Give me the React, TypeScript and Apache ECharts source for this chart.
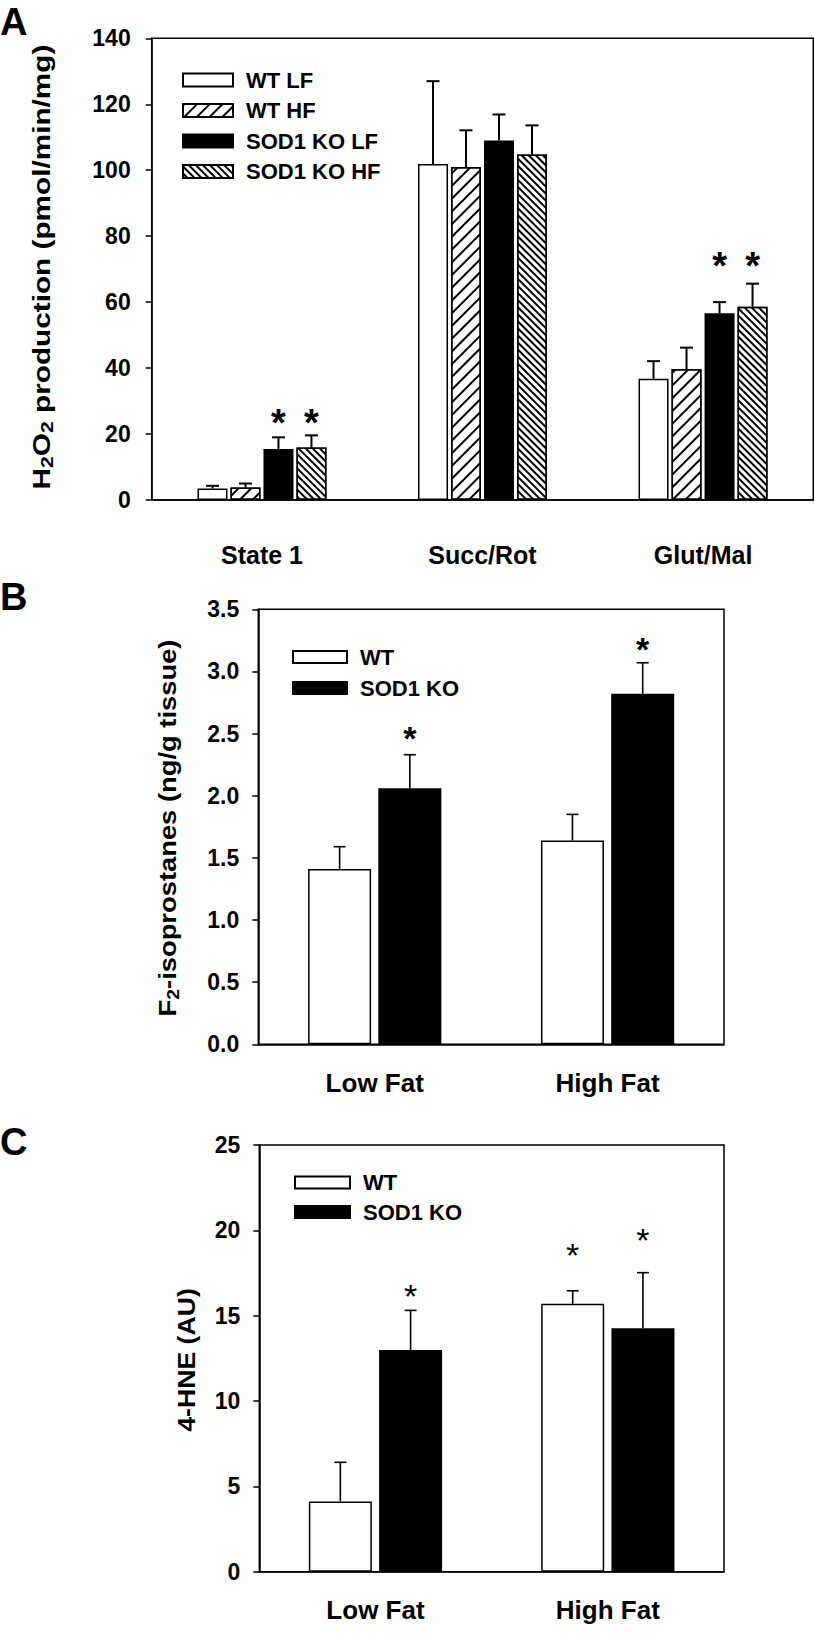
import { useEffect, useRef } from 'react';
import * as echarts from 'echarts';

const FONT = 'Arial, "Liberation Sans", Helvetica, sans-serif';

// ---------- Panel A : H2O2 production ----------
const catsA = ['State 1', 'Succ/Rot', 'Glut/Mal'];
const namesA = ['WT LF', 'WT HF', 'SOD1 KO LF', 'SOD1 KO HF'];
const meanWtLF = [3.5, 101.9, 36.8];
const errWtLF = [0.8, 25.1, 5.3];
const meanWtHF = [3.8, 101.0, 39.7];
const errWtHF = [1.2, 11.1, 6.5];
const meanKoLF = [15.5, 109.0, 56.6];
const errKoLF = [3.5, 7.9, 3.4];
const meanKoHF = [15.9, 104.8, 58.6];
const errKoHF = [3.7, 8.8, 7.0];
// [category, bar index, height of asterisk]
const starsA = [[0, 2, 26.1], [0, 3, 26.1], [2, 2, 73.7], [2, 3, 73.7]];

// ---------- Panel B : F2-isoprostanes ----------
const catsBC = ['Low Fat', 'High Fat'];
const namesBC = ['WT', 'SOD1 KO'];
const meanF2WT = [1.41, 1.64];
const errF2WT = [0.18, 0.21];
const meanF2KO = [2.06, 2.82];
const errF2KO = [0.27, 0.25];
const starsB = [[0, 1, 2.53], [1, 1, 3.24]];

// ---------- Panel C : 4-HNE ----------
const meanHneWT = [4.12, 15.7];
const errHneWT = [2.29, 0.76];
const meanHneKO = [12.99, 14.26];
const errHneKO = [2.32, 3.26];
const starsC = [[0, 1, 16.6], [1, 0, 19.04], [1, 1, 19.92]];

const BLACK = '#000';
const lineStyle = { color: BLACK, width: 1.5 };

const whiteStyle = { color: '#fff', borderColor: BLACK, borderWidth: 1.5 };
const blackStyle = { color: BLACK, borderColor: BLACK, borderWidth: 1.5 };
const fwdHatch = {
  color: '#fff', borderColor: BLACK, borderWidth: 1.5,
  decal: { symbol: 'rect', symbolSize: 1, color: BLACK, backgroundColor: '#fff', dashArrayX: [1, 0], dashArrayY: [2, 7], rotation: -Math.PI / 4 },
};
const backHatch = {
  color: '#fff', borderColor: BLACK, borderWidth: 1.5,
  decal: { symbol: 'rect', symbolSize: 1, color: BLACK, backgroundColor: '#fff', dashArrayX: [1, 0], dashArrayY: [2, 3], rotation: Math.PI / 4 },
};

function barSeries(name: string, data: number[], style: any, idx: number, bw: number, gap: string) {
  return {
    type: 'bar', name, xAxisIndex: idx, yAxisIndex: idx, data, barWidth: bw, barGap: gap,
    itemStyle: style, z: 2, silent: true,
  };
}

function errSeries(means: number[], errs: number[], idx: number, offset: number, cap: number, lw: number) {
  return {
    type: 'custom', xAxisIndex: idx, yAxisIndex: idx, z: 3, silent: true,
    data: means.map((m, i) => [i, m, errs[i]]),
    encode: { x: 0, y: 1 },
    renderItem: (_p: any, api: any) => {
      const c = api.value(0), m = api.value(1), e = api.value(2);
      const base = api.coord([c, m]);
      const top = api.coord([c, m + e]);
      const x = base[0] + offset;
      return {
        type: 'group',
        children: [
          { type: 'line', shape: { x1: x, y1: base[1], x2: x, y2: top[1] }, style: { stroke: BLACK, lineWidth: lw } },
          { type: 'line', shape: { x1: x - cap / 2, y1: top[1], x2: x + cap / 2, y2: top[1] }, style: { stroke: BLACK, lineWidth: lw } },
        ],
      };
    },
  };
}

function starSeries(stars: number[][], idx: number, step: number, nBars: number, fs: number, weight: string) {
  return {
    type: 'custom', xAxisIndex: idx, yAxisIndex: idx, z: 4, silent: true,
    data: stars,
    encode: { x: 0, y: 2 },
    renderItem: (_p: any, api: any) => {
      const c = api.value(0), b = api.value(1), v = api.value(2);
      const pt = api.coord([c, v]);
      const x = pt[0] + (b - (nBars - 1) / 2) * step;
      return {
        type: 'text', x, y: pt[1] + 0.23 * fs,
        style: { text: '*', fontSize: fs, fontWeight: weight, fontFamily: FONT, fill: BLACK, align: 'center', verticalAlign: 'middle' },
      };
    },
  };
}

function xAxis(idx: number, data: string[], fs: number, margin: number) {
  return {
    type: 'category', gridIndex: idx, data,
    axisLine: { lineStyle },
    axisTick: { alignWithLabel: true, length: 6, lineStyle },
    axisLabel: { fontSize: fs, fontWeight: 'bold', fontFamily: FONT, color: BLACK, margin },
  };
}

function yAxis(idx: number, max: number, interval: number, margin: number, digits: number) {
  return {
    type: 'value', gridIndex: idx, min: 0, max, interval,
    splitLine: { show: false },
    axisLine: { show: true, lineStyle },
    axisTick: { show: true, length: 6, lineStyle },
    axisLabel: {
      fontSize: 23, fontWeight: 'bold', fontFamily: FONT, color: BLACK, margin,
      formatter: (v: number) => v.toFixed(digits),
    },
  };
}

function legend(data: string[], left: number, top: number, w: number, h: number, gap: number) {
  return {
    data, orient: 'vertical', left, top, itemWidth: w, itemHeight: h, itemGap: gap,
    padding: 0, icon: 'rect', selectedMode: false,
    textStyle: { fontSize: 22, fontWeight: 'bold', fontFamily: FONT, color: BLACK, padding: [0, 0, 0, 8] },
  };
}

const mainRich = { fontSize: 24, fontWeight: 'bold', fontFamily: FONT, fill: BLACK, lineHeight: 24, verticalAlign: 'top' };
const subRich = { fontSize: 17, fontWeight: 'bold', fontFamily: FONT, fill: BLACK, lineHeight: 17, padding: [10, 0, 0, 0] };

function rotTitle(text: string, x: number, y: number, sx: number) {
  return {
    type: 'text', x, y, rotation: Math.PI / 2, scaleX: sx, silent: true,
    style: { text, rich: { m: mainRich, s: subRich }, align: 'center', verticalAlign: 'middle', fill: BLACK },
  };
}

function panelLetter(t: string, x: number, y: number) {
  return {
    type: 'text', x, y, silent: true,
    style: { text: t, fontSize: 38, fontWeight: 'bold', fontFamily: FONT, fill: BLACK, align: 'left', verticalAlign: 'middle' },
  };
}

export default function App() {
  const ref = useRef<HTMLDivElement>(null);
  useEffect(() => {
    if (!ref.current) return;
    const chart = echarts.init(ref.current, null, { renderer: 'svg' });
    const stepA = 33;
    const stepBC = 63 * 1.115;
    const offA = (i: number) => (i - 1.5) * stepA;
    const offBC = (i: number) => (i - 0.5) * stepBC;
    const gridStyle = { show: true, borderColor: BLACK, borderWidth: 1.5, backgroundColor: 'transparent' };
    chart.setOption({
      animation: false,
      backgroundColor: '#fff',
      grid: [
        { left: 151.7, top: 38.3, width: 661.6, height: 461.7, ...gridStyle },
        { left: 258.3, top: 609.3, width: 465.7, height: 435, ...gridStyle },
        { left: 259.3, top: 1145, width: 464.7, height: 426.7, ...gridStyle },
      ],
      xAxis: [xAxis(0, catsA, 25, 42), xAxis(1, catsBC, 26, 26), xAxis(2, catsBC, 26, 25)],
      yAxis: [yAxis(0, 140, 20, 21, 0), yAxis(1, 3.5, 0.5, 19, 1), yAxis(2, 25, 5, 19, 0)],
      legend: [
        legend(namesA, 182, 69, 50, 13, 8.5),
        legend(namesBC, 292, 646, 54, 12, 9),
        legend(namesBC, 294, 1171.5, 55, 12, 7.5),
      ],
      graphic: [
        panelLetter('A', 0, 22),
        panelLetter('B', 0, 597),
        panelLetter('C', 0, 1142),
        rotTitle('{m|H}{s|2}{m|O}{s|2}{m| production (pmol/min/mg)}', 42, 267, 1.24),
        rotTitle('{m|F}{s|2}{m|-isoprostanes (ng/g tissue)}', 168, 828, 1.14),
        rotTitle('{m|4-HNE (AU)}', 186, 1360, 1.11),
      ],
      series: [
        barSeries(namesA[0], meanWtLF, whiteStyle, 0, 30, '10%'),
        barSeries(namesA[1], meanWtHF, fwdHatch, 0, 30, '10%'),
        barSeries(namesA[2], meanKoLF, blackStyle, 0, 30, '10%'),
        barSeries(namesA[3], meanKoHF, backHatch, 0, 30, '10%'),
        errSeries(meanWtLF, errWtLF, 0, offA(0), 13, 2),
        errSeries(meanWtHF, errWtHF, 0, offA(1), 13, 2),
        errSeries(meanKoLF, errKoLF, 0, offA(2), 13, 2),
        errSeries(meanKoHF, errKoHF, 0, offA(3), 13, 2),
        starSeries(starsA, 0, stepA, 4, 38, 'bold'),

        barSeries(namesBC[0], meanF2WT, whiteStyle, 1, 63, '11.5%'),
        barSeries(namesBC[1], meanF2KO, blackStyle, 1, 63, '11.5%'),
        errSeries(meanF2WT, errF2WT, 1, offBC(0), 12, 1.6),
        errSeries(meanF2KO, errF2KO, 1, offBC(1), 12, 1.6),
        starSeries(starsB, 1, stepBC, 2, 34, 'bold'),

        barSeries(namesBC[0], meanHneWT, whiteStyle, 2, 63, '11.5%'),
        barSeries(namesBC[1], meanHneKO, blackStyle, 2, 63, '11.5%'),
        errSeries(meanHneWT, errHneWT, 2, offBC(0), 12, 1.6),
        errSeries(meanHneKO, errHneKO, 2, offBC(1), 12, 1.6),
        starSeries(starsC, 2, stepBC, 2, 34, 'normal'),
      ],
    });
    return () => chart.dispose();
  }, []);
  return <div ref={ref} style={{ position: 'absolute', left: 0, top: 0, width: 815, height: 1633 }} />;
}
